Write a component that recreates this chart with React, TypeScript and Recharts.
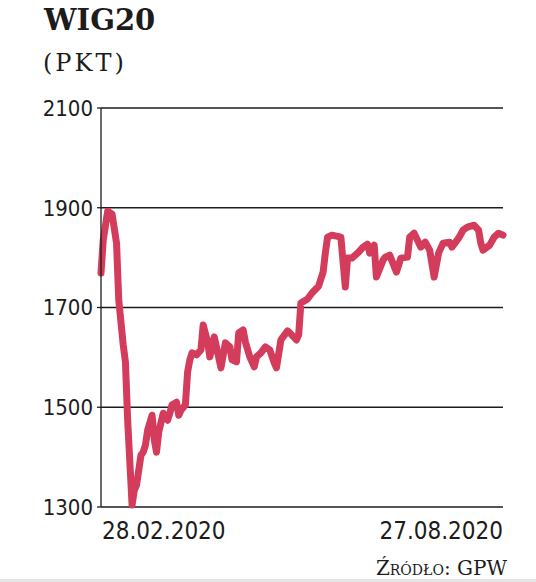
import React from 'react';
import { LineChart, Line, XAxis, YAxis, CartesianGrid } from 'recharts';

// calendar day offset from 28.02.2020
const days: number[] = [
  0, 1, 3, 5, 7, 8, 10, 11, 12, 14, 15, 16, 18, 19, 20, 21, 23, 24, 25, 26,
  28, 30, 31, 32, 34, 35, 36, 38, 39, 40, 41, 43, 45, 46, 48, 49, 51, 52, 54, 56,
  58, 59, 61, 62, 64, 65, 67, 69, 70, 72, 74, 76, 78, 79, 81, 84, 85, 88, 89, 90,
  93, 95, 98, 100, 101, 102, 104, 106, 108, 110, 111, 113, 116, 118, 120, 121, 123, 124, 127, 128,
  130, 133, 135, 138, 139, 141, 144, 146, 148, 150, 152, 154, 157, 158, 161, 163, 165, 168, 170, 171,
  172, 175, 177, 179, 181,
];

const wig20: number[] = [
  1769, 1835, 1893, 1887, 1829, 1715, 1625, 1591, 1474, 1304, 1334, 1344, 1404, 1410, 1424, 1454, 1484, 1434, 1410, 1450,
  1488, 1474, 1488, 1505, 1510, 1484, 1494, 1505, 1571, 1595, 1609, 1605, 1615, 1665, 1631, 1601, 1641, 1621, 1579, 1629,
  1621, 1595, 1591, 1649, 1655, 1631, 1601, 1581, 1601, 1609, 1621, 1615, 1589, 1579, 1635, 1653, 1649, 1635, 1645, 1709,
  1717, 1729, 1743, 1771, 1809, 1841, 1845, 1843, 1841, 1741, 1799, 1799, 1811, 1821, 1827, 1809, 1825, 1761, 1795, 1801,
  1805, 1771, 1799, 1801, 1841, 1849, 1821, 1831, 1815, 1761, 1809, 1829, 1831, 1821, 1839, 1855, 1861, 1865, 1855, 1829,
  1815, 1825, 1841, 1849, 1845,
];

const yTicks: number[] = [1300, 1500, 1700, 1900, 2100];
const xTicks: number[] = [0, 181];
const xTickLabels: string[] = ['28.02.2020', '27.08.2020'];

const title = 'WIG20';
const unit = '(PKT)';
const source = 'Źródło: GPW';

const data = days.map((d, i) => ({ day: d, value: wig20[i] }));

const LINE_COLOR = '#d43c5c';
const INK = '#1c1c1c';
const CONDENSED = "'DejaVu Sans Condensed', 'DejaVu Sans', sans-serif";

const XTick = (props: any) => {
  const { x, y, payload, index } = props;
  const idx = xTicks.indexOf(payload.value);
  const anchor = idx === 0 ? 'start' : 'end';
  const dx = idx === 0 ? 1 : 0;
  return (
    <text
      x={x + dx}
      y={y + 24}
      textAnchor={anchor}
      fill={INK}
      fontSize={24}
      fontWeight={500}
      fontFamily={CONDENSED}
      style={{ fontStretch: 'condensed' }}
    >
      {xTickLabels[idx >= 0 ? idx : index]}
    </text>
  );
};

export default function App() {
  return (
    <div style={{ position: 'absolute', left: 0, top: 0, width: 536, height: 582, background: '#fff', overflow: 'hidden' }}>
      <LineChart
        width={536}
        height={582}
        data={data}
        margin={{ top: 108, right: 33, bottom: 35, left: 0 }}
      >
        <CartesianGrid horizontal vertical={false} stroke={INK} strokeWidth={1.3} />
        <XAxis
          dataKey="day"
          type="number"
          domain={[0, 181]}
          ticks={xTicks}
          axisLine={false}
          tickLine={false}
          height={40}
          tick={<XTick />}
          interval={0}
        />
        <YAxis
          type="number"
          domain={[1300, 2100]}
          ticks={yTicks}
          width={101}
          axisLine={{ stroke: INK, strokeWidth: 1.3 }}
          tickLine={{ stroke: INK, strokeWidth: 1.3 }}
          tickSize={4}
          tickMargin={4}
          interval={0}
          tick={{ fill: INK, fontSize: 22, fontFamily: CONDENSED, style: { fontStretch: 'condensed' } } as any}
        />
        <Line
          type="linear"
          dataKey="value"
          stroke={LINE_COLOR}
          strokeWidth={7}
          strokeLinejoin="round"
          strokeLinecap="round"
          dot={false}
          activeDot={false}
          isAnimationActive={false}
        />
      </LineChart>
      <svg width={536} height={582} style={{ position: 'absolute', left: 0, top: 0, pointerEvents: 'none' }}>
        <text x={44} y={30} fontFamily="'DejaVu Serif', serif" fontWeight={700} fontSize={29} fill={INK}>
          {title}
        </text>
        <text x={43} y={71} fontFamily="'DejaVu Serif', serif" fontSize={24} fill={INK} letterSpacing={3}>
          {unit}
        </text>
        <text
          x={507}
          y={575}
          textAnchor="end"
          fontFamily="'DejaVu Serif', serif"
          fontSize={20}
          fill={INK}
          style={{ fontVariant: 'small-caps' }}
        >
          {source}
        </text>
      </svg>
      <div style={{ position: 'absolute', left: 0, top: 579, width: 536, height: 3, background: '#e4e4e4' }} />
    </div>
  );
}
